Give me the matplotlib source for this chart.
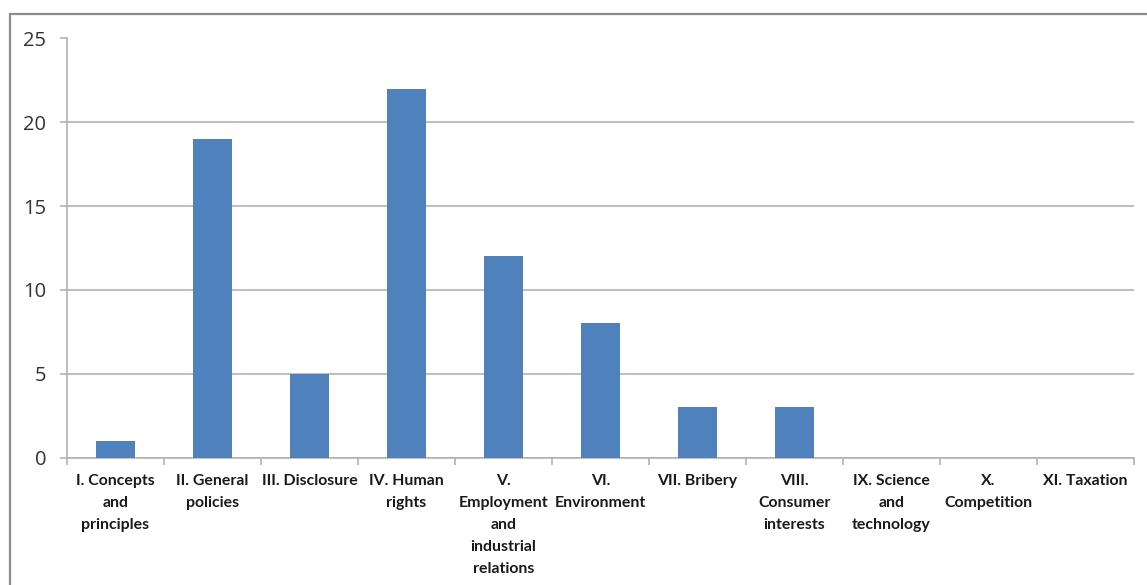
import matplotlib as mpl
mpl.use('Agg')
import matplotlib.pyplot as plt
from matplotlib.patches import Rectangle
from matplotlib.ticker import FixedLocator

# Number of references per chapter of the guidelines
chapters = ['I. Concepts\nand\nprinciples', 'II. General\npolicies', 'III. Disclosure',
            'IV. Human\nrights', 'V.\nEmployment\nand\nindustrial\nrelations',
            'VI.\nEnvironment', 'VII. Bribery', 'VIII.\nConsumer\ninterests',
            'IX. Science\nand\ntechnology', 'X.\nCompetition', 'XI. Taxation']
counts = [1, 19, 5, 22, 12, 8, 3, 3, 0, 0, 0]
y_ticks = [0, 5, 10, 15, 20, 25]

bar_color = '#4F81BD'
grid_color = '#b3b3b3'
label_font = ['Lato', 'DejaVu Sans']

fig = plt.figure(figsize=(11.47, 5.85), dpi=100)
fig.patch.set_facecolor('white')

# chart frame, runs off the right and bottom edges
frame = Rectangle((10 / 1147, -0.1), 1.2, 1 - 14 / 585 + 0.1,
                  transform=fig.transFigure, fill=False,
                  edgecolor='#8c8c8c', lw=1.6, zorder=0)
fig.patches.append(frame)

ax = fig.add_axes([67 / 1147, 1 - 457.5 / 585, (1134 - 67) / 1147, (457.5 - 38.5) / 585])
x = range(len(counts))
ax.bar(x, counts, width=0.4, color=bar_color, zorder=3)

ax.set_xlim(-0.5, len(counts) - 0.5)
ax.set_ylim(0, 25)
ax.set_yticks(y_ticks)
ax.yaxis.grid(True, color=grid_color, lw=1.2, zorder=0)
ax.tick_params(axis='y', length=5, width=1.2, color=grid_color, pad=10,
               labelsize=14.5, labelcolor='#333333')
for lab in ax.get_yticklabels():
    lab.set_family(['Open Sans', 'DejaVu Sans'])

ax.set_xticks(list(x))
ax.set_xticklabels(chapters, fontsize=11.4, fontweight='bold', family=label_font,
                   color='#1a1a1a', linespacing=1.72, va='top')
ax.tick_params(axis='x', which='major', length=0, pad=12)
ax.xaxis.set_minor_locator(FixedLocator([i - 0.5 for i in range(len(counts) + 1)]))
ax.tick_params(axis='x', which='minor', length=5, width=1.2, color=grid_color)

for side in ['top', 'right']:
    ax.spines[side].set_visible(False)
for side in ['left', 'bottom']:
    ax.spines[side].set_color(grid_color)
    ax.spines[side].set_linewidth(1.2)

fig.savefig('out.png', dpi=100)
